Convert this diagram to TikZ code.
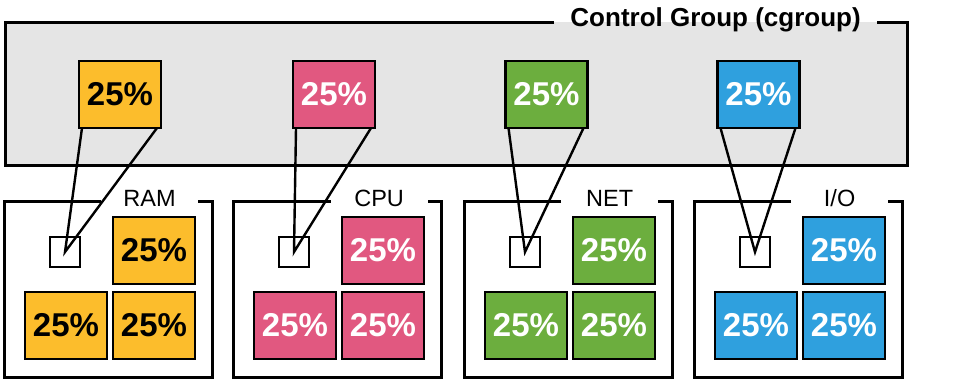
\documentclass[tikz,border=0pt]{standalone}
\usepackage{fontspec}
\setmainfont{Liberation Sans}
\usetikzlibrary{positioning}
\definecolor{ramcol}{RGB}{252,189,44}
\definecolor{cpucol}{RGB}{225,88,128}
\definecolor{netcol}{RGB}{108,174,62}
\definecolor{iocol}{RGB}{47,160,222}
\definecolor{cggray}{RGB}{229,229,229}

\begin{document}
\begin{tikzpicture}[x=0.5pt,y=-0.5pt]
\tikzstyle{share}=[rectangle,draw=black,line width=1.2pt,
inner sep=0pt,outer sep=0pt,minimum width=41pt,minimum height=33.5pt,
font=\fontsize{16.5}{18}\selectfont\bfseries,text=white]
\tikzstyle{frame}=[rectangle,inner sep=0pt,outer sep=0pt,
minimum width=104pt,minimum height=88pt]
\tikzstyle{slot}=[rectangle,draw=black,line width=1pt,fill=white,
inner sep=0pt,minimum size=15pt]
\tikzstyle{lbl}=[inner sep=0pt,minimum width=48pt,
font=\fontsize{11.75}{13}\selectfont]
\tikzstyle{border}=[line width=1.5pt]
\tikzstyle{wire}=[line width=1.2pt]
\useasboundingbox (0,0) rectangle (968,380);

% control group
\node[rectangle,fill=cggray,inner sep=0pt,outer sep=0pt,
minimum width=451pt,minimum height=71.5pt] (cg) at (456,93.5) {};
\node[inner sep=0pt,minimum width=161pt,anchor=east,
font=\fontsize{13}{15}\selectfont\bfseries] (cgtitle) at ([xshift=-15pt,yshift=1pt]cg.north east) {Control Group (cgroup)};
\draw[border] (cgtitle.west |- cg.north) -- (cg.north west) -- (cg.south west)
 -- (cg.south east) -- (cg.north east) -- (cgtitle.east |- cg.north);

\node[share,fill=ramcol,text=black] at (120,94.5) (ramcg) {25\%};
\node[share,fill=cpucol] at (334,94.5) (cpucg) {25\%};
\node[share,fill=netcol] at (546.5,94.5) (netcg) {25\%};
\node[share,fill=iocol] at (758.5,94.5) (iocg) {25\%};

% resources
\node[frame] at (108,289) (ram) {};
\node[frame] at (337.5,289) (cpu) {};
\node[frame] at (568,289) (net) {};
\node[frame] at (798,289) (io) {};

\node[lbl,anchor=east] at ([xshift=-7pt,yshift=1.5pt]ram.north east) (ramlbl) {RAM};
\node[lbl,anchor=east] at ([xshift=-7pt,yshift=1.5pt]cpu.north east) (cpulbl) {CPU};
\node[lbl,anchor=east] at ([xshift=-7pt,yshift=1.5pt]net.north east) (netlbl) {NET};
\node[lbl,anchor=east] at ([xshift=-7pt,yshift=1.5pt]io.north east) (iolbl) {I/O};

\draw[border] (ramlbl.west |- ram.north) -- (ram.north west) -- (ram.south west) -- (ram.south east) -- (ram.north east) -- (ramlbl.east |- ram.north);
\draw[border] (cpulbl.west |- cpu.north) -- (cpu.north west) -- (cpu.south west) -- (cpu.south east) -- (cpu.north east) -- (cpulbl.east |- cpu.north);
\draw[border] (netlbl.west |- net.north) -- (net.north west) -- (net.south west) -- (net.south east) -- (net.north east) -- (netlbl.east |- net.north);
\draw[border] (iolbl.west |- io.north) -- (io.north west) -- (io.south west) -- (io.south east) -- (io.north east) -- (iolbl.east |- io.north);

\node[slot] at (65,252) (ramslot) {};
\node[slot] at (294,252) (cpuslot) {};
\node[slot] at (525,252) (netslot) {};
\node[slot] at (755,252) (ioslot) {};

\node[share,fill=ramcol,text=black] at (66,325.5) (ram3) {25\%};
\node[share,fill=ramcol,text=black,right=3pt of ram3] (ram4) {25\%};
\node[share,fill=ramcol,text=black,above=4pt of ram4] (ram2) {25\%};
\node[share,fill=cpucol] at (295,325.5) (cpu3) {25\%};
\node[share,fill=cpucol,right=3pt of cpu3] (cpu4) {25\%};
\node[share,fill=cpucol,above=4pt of cpu4] (cpu2) {25\%};
\node[share,fill=netcol] at (526,325.5) (net3) {25\%};
\node[share,fill=netcol,right=3pt of net3] (net4) {25\%};
\node[share,fill=netcol,above=4pt of net4] (net2) {25\%};
\node[share,fill=iocol] at (756,325.5) (io3) {25\%};
\node[share,fill=iocol,right=3pt of io3] (io4) {25\%};
\node[share,fill=iocol,above=4pt of io4] (io2) {25\%};

% shares handed down
\draw[wire] ([xshift=1.5pt]ramcg.south west) -- (ramslot.center) -- ([xshift=-2pt]ramcg.south east);
\draw[wire] ([xshift=1.5pt]cpucg.south west) -- (cpuslot.center) -- ([xshift=-2pt]cpucg.south east);
\draw[wire] ([xshift=1.5pt]netcg.south west) -- (netslot.center) -- ([xshift=-2pt]netcg.south east);
\draw[wire] ([xshift=1.5pt]iocg.south west) -- (ioslot.center) -- ([xshift=-2pt]iocg.south east);

\end{tikzpicture}
\end{document}
